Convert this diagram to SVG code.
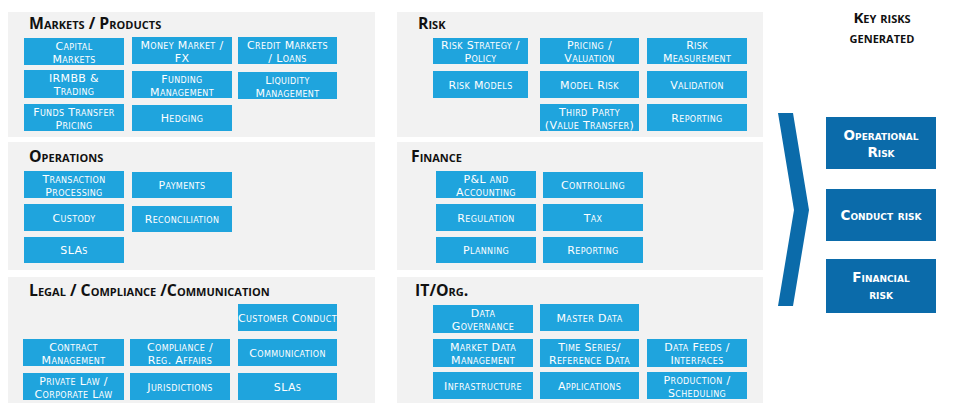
<svg xmlns="http://www.w3.org/2000/svg" width="960" height="419" viewBox="0 0 960 419">
<style>
.bg{fill:#ffffff}
.panel{fill:#f2f2f2}
.box{fill:#1fa4dd}
.dark{fill:#0b6baa}
.bt{font-family:"DejaVu Sans",Verdana,sans-serif;font-size:11px;letter-spacing:0.35px;font-variant:small-caps;fill:#ffffff;text-anchor:middle}
.title{font-family:"Open Sans","Noto Sans",sans-serif;font-size:15.8px;font-weight:700;font-variant:small-caps;fill:#111111}
.kt{font-family:"Open Sans","Noto Sans",sans-serif;font-size:15px;font-weight:700;font-variant:small-caps;fill:#111111;text-anchor:middle}
.rt{font-family:"DejaVu Sans",Verdana,sans-serif;font-size:13.5px;font-weight:700;font-variant:small-caps;fill:#ffffff;text-anchor:middle}
</style>
<rect class="bg" x="0" y="0" width="960" height="419"/>

<!-- Panels -->
<g id="panel-markets"><rect class="panel" x="8" y="12" width="367" height="125"/><text class="title" x="29" y="29">Markets / Products</text></g>
<g id="panel-risk"><rect class="panel" x="397" y="12" width="366" height="125"/><text class="title" x="418" y="29">Risk</text></g>
<g id="panel-operations"><rect class="panel" x="8" y="142" width="367" height="128"/><text class="title" x="29" y="162">Operations</text></g>
<g id="panel-finance"><rect class="panel" x="397" y="142" width="366" height="128"/><text class="title" x="411" y="162">Finance</text></g>
<g id="panel-legal"><rect class="panel" x="8" y="277" width="367" height="126"/><text class="title" x="29" y="296">Legal / Compliance /Communication</text></g>
<g id="panel-it"><rect class="panel" x="397" y="277" width="366" height="126"/><text class="title" x="415" y="296">IT/Org.</text></g>

<!-- Markets / Products -->
<g id="n-capital-markets"><rect class="box" x="24" y="38" width="100" height="27"/><text class="bt" x="74" y="49.5"><tspan x="74">Capital</tspan><tspan x="74" dy="13">Markets</tspan></text></g>
<g id="n-money-market"><rect class="box" x="132" y="37" width="100" height="27"/><text class="bt" x="182" y="48.5"><tspan x="182">Money Market /</tspan><tspan x="182" dy="13">FX</tspan></text></g>
<g id="n-credit-markets"><rect class="box" x="238" y="37" width="99" height="27"/><text class="bt" x="287.5" y="48.5"><tspan x="287.5">Credit Markets</tspan><tspan x="287.5" dy="13">/ Loans</tspan></text></g>
<g id="n-irmbb"><rect class="box" x="24" y="70" width="100" height="28"/><text class="bt" x="74" y="82"><tspan x="74">IRMBB &amp;</tspan><tspan x="74" dy="13">Trading</tspan></text></g>
<g id="n-funding"><rect class="box" x="132" y="71" width="100" height="27"/><text class="bt" x="182" y="82.5"><tspan x="182">Funding</tspan><tspan x="182" dy="13">Management</tspan></text></g>
<g id="n-liquidity"><rect class="box" x="238" y="72" width="99" height="27"/><text class="bt" x="287.5" y="83.5"><tspan x="287.5">Liquidity</tspan><tspan x="287.5" dy="13">Management</tspan></text></g>
<g id="n-ftp"><rect class="box" x="24" y="104" width="100" height="27"/><text class="bt" x="74" y="115.5"><tspan x="74">Funds Transfer</tspan><tspan x="74" dy="13">Pricing</tspan></text></g>
<g id="n-hedging"><rect class="box" x="132" y="105" width="100" height="26"/><text class="bt" x="182" y="122">Hedging</text></g>

<!-- Risk -->
<g id="n-risk-strategy"><rect class="box" x="433" y="38" width="95" height="26"/><text class="bt" x="480.5" y="49"><tspan x="480.5">Risk Strategy /</tspan><tspan x="480.5" dy="13">Policy</tspan></text></g>
<g id="n-pricing"><rect class="box" x="540" y="38" width="99" height="26"/><text class="bt" x="589.5" y="49"><tspan x="589.5">Pricing /</tspan><tspan x="589.5" dy="13">Valuation</tspan></text></g>
<g id="n-risk-measurement"><rect class="box" x="647" y="38" width="100" height="26"/><text class="bt" x="697" y="49"><tspan x="697">Risk</tspan><tspan x="697" dy="13">Measurement</tspan></text></g>
<g id="n-risk-models"><rect class="box" x="433" y="71" width="95" height="27"/><text class="bt" x="480.5" y="88.5">Risk Models</text></g>
<g id="n-model-risk"><rect class="box" x="540" y="71" width="99" height="27"/><text class="bt" x="589.5" y="88.5">Model Risk</text></g>
<g id="n-validation"><rect class="box" x="647" y="71" width="100" height="27"/><text class="bt" x="697" y="88.5">Validation</text></g>
<g id="n-third-party"><rect class="box" x="540" y="104" width="99" height="27"/><text class="bt" x="589.5" y="115.5"><tspan x="589.5">Third Party</tspan><tspan x="589.5" dy="13">(Value Transfer)</tspan></text></g>
<g id="n-risk-reporting"><rect class="box" x="647" y="104" width="100" height="27"/><text class="bt" x="697" y="121.5">Reporting</text></g>

<!-- Operations -->
<g id="n-transaction"><rect class="box" x="24" y="171" width="100" height="27"/><text class="bt" x="74" y="182.5"><tspan x="74">Transaction</tspan><tspan x="74" dy="13">Processing</tspan></text></g>
<g id="n-payments"><rect class="box" x="132" y="172" width="100" height="26"/><text class="bt" x="182" y="189">Payments</text></g>
<g id="n-custody"><rect class="box" x="24" y="204" width="100" height="27"/><text class="bt" x="74" y="221.5">Custody</text></g>
<g id="n-reconciliation"><rect class="box" x="132" y="206" width="100" height="26"/><text class="bt" x="182" y="223">Reconciliation</text></g>
<g id="n-ops-slas"><rect class="box" x="24" y="237" width="100" height="26"/><text class="bt" x="74" y="254">SLAs</text></g>

<!-- Finance -->
<g id="n-pnl"><rect class="box" x="436" y="171" width="100" height="27"/><text class="bt" x="486" y="182.5"><tspan x="486">P&amp;L and</tspan><tspan x="486" dy="13">Accounting</tspan></text></g>
<g id="n-controlling"><rect class="box" x="543" y="172" width="100" height="26"/><text class="bt" x="593" y="189">Controlling</text></g>
<g id="n-regulation"><rect class="box" x="436" y="204" width="100" height="27"/><text class="bt" x="486" y="221.5">Regulation</text></g>
<g id="n-tax"><rect class="box" x="543" y="204" width="100" height="27"/><text class="bt" x="593" y="221.5">Tax</text></g>
<g id="n-planning"><rect class="box" x="436" y="237" width="100" height="26"/><text class="bt" x="486" y="254">Planning</text></g>
<g id="n-fin-reporting"><rect class="box" x="543" y="237" width="100" height="26"/><text class="bt" x="593" y="254">Reporting</text></g>

<!-- Legal / Compliance / Communication -->
<g id="n-customer-conduct"><rect class="box" x="238" y="304" width="99" height="27"/><text class="bt" x="287.5" y="321.5">Customer Conduct</text></g>
<g id="n-contract"><rect class="box" x="23" y="339" width="101" height="27"/><text class="bt" x="73.5" y="350.5"><tspan x="73.5">Contract</tspan><tspan x="73.5" dy="13">Management</tspan></text></g>
<g id="n-compliance"><rect class="box" x="130" y="339" width="100" height="27"/><text class="bt" x="180" y="350.5"><tspan x="180">Compliance /</tspan><tspan x="180" dy="13">Reg. Affairs</tspan></text></g>
<g id="n-communication"><rect class="box" x="238" y="339" width="99" height="27"/><text class="bt" x="287.5" y="356.5">Communication</text></g>
<g id="n-private-law"><rect class="box" x="23" y="373" width="101" height="27"/><text class="bt" x="73.5" y="384.5"><tspan x="73.5">Private Law /</tspan><tspan x="73.5" dy="13">Corporate Law</tspan></text></g>
<g id="n-jurisdictions"><rect class="box" x="130" y="373" width="100" height="27"/><text class="bt" x="180" y="390.5">Jurisdictions</text></g>
<g id="n-legal-slas"><rect class="box" x="238" y="373" width="99" height="27"/><text class="bt" x="287.5" y="390.5">SLAs</text></g>

<!-- IT / Org -->
<g id="n-data-governance"><rect class="box" x="433" y="305" width="100" height="28"/><text class="bt" x="483" y="317"><tspan x="483">Data</tspan><tspan x="483" dy="13">Governance</tspan></text></g>
<g id="n-master-data"><rect class="box" x="540" y="304" width="99" height="27"/><text class="bt" x="589.5" y="321.5">Master Data</text></g>
<g id="n-market-data"><rect class="box" x="433" y="339" width="100" height="28"/><text class="bt" x="483" y="351"><tspan x="483">Market Data</tspan><tspan x="483" dy="13">Management</tspan></text></g>
<g id="n-time-series"><rect class="box" x="540" y="339" width="99" height="28"/><text class="bt" x="589.5" y="351"><tspan x="589.5">Time Series/</tspan><tspan x="589.5" dy="13">Reference Data</tspan></text></g>
<g id="n-data-feeds"><rect class="box" x="647" y="339" width="100" height="28"/><text class="bt" x="697" y="351"><tspan x="697">Data Feeds /</tspan><tspan x="697" dy="13">Interfaces</tspan></text></g>
<g id="n-infrastructure"><rect class="box" x="433" y="372" width="100" height="27"/><text class="bt" x="483" y="389.5">Infrastructure</text></g>
<g id="n-applications"><rect class="box" x="540" y="372" width="99" height="27"/><text class="bt" x="589.5" y="389.5">Applications</text></g>
<g id="n-production"><rect class="box" x="647" y="372" width="100" height="27"/><text class="bt" x="697" y="383.5"><tspan x="697">Production /</tspan><tspan x="697" dy="13">Scheduling</tspan></text></g>

<!-- Key risks -->
<g id="key-risks-title"><text class="kt" x="882" y="23"><tspan x="882">Key risks</tspan><tspan x="882" dy="20">generated</tspan></text></g>

<g id="connectors">
<polygon id="chevron" class="dark" points="778,113 793,113 809,210 793,306 778,306 794,210"/>
</g>

<g id="n-operational-risk"><rect class="dark" x="826" y="117" width="110" height="52"/><text class="rt" x="881" y="140"><tspan x="881">Operational</tspan><tspan x="881" dy="16.5">Risk</tspan></text></g>
<g id="n-conduct-risk"><rect class="dark" x="826" y="189" width="110" height="52"/><text class="rt" x="881" y="220">Conduct risk</text></g>
<g id="n-financial-risk"><rect class="dark" x="826" y="259" width="110" height="54"/><text class="rt" x="881" y="282"><tspan x="881">Financial</tspan><tspan x="881" dy="16.5">risk</tspan></text></g>
</svg>
